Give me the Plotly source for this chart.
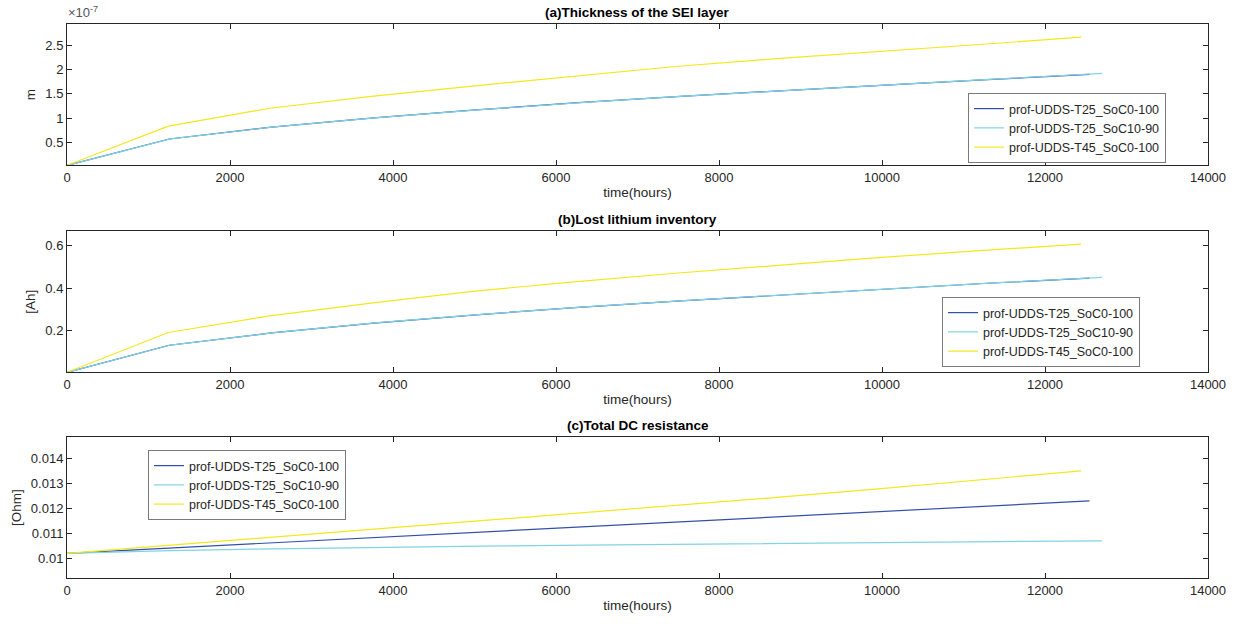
import plotly.graph_objects as go

# ---------------- data ----------------
names = ["prof-UDDS-T25_SoC0-100", "prof-UDDS-T25_SoC10-90", "prof-UDDS-T45_SoC0-100"]
colors = ["#3350a8", "#80d4e4", "#f3e81c"]

t_T25_full = [0, 1255, 2510, 3765, 5020, 6275, 7530, 8785, 10040, 11295, 12546]
t_T25_part = [0, 1270, 2540, 3810, 5080, 6350, 7620, 8890, 10160, 11430, 12700]
t_T45_full = [0, 1244, 2488, 3732, 4976, 6220, 7464, 8708, 9952, 11196, 12443]
times = [t_T25_full, t_T25_part, t_T45_full]

# (a) SEI thickness, units of 1e-7 m
sei_T25_full = [0.037, 0.575, 0.82, 1.01, 1.17, 1.32, 1.45, 1.57, 1.68, 1.79, 1.90]
sei_T25_part = [0.037, 0.577, 0.823, 1.015, 1.177, 1.325, 1.457, 1.578, 1.692, 1.805, 1.92]
sei_T45_full = [0.037, 0.84, 1.205, 1.45, 1.66, 1.86, 2.06, 2.22, 2.36, 2.51, 2.66]

# (b) lost lithium inventory [Ah]
lli_T25_full = [0.005, 0.132, 0.19, 0.236, 0.275, 0.31, 0.34, 0.368, 0.397, 0.423, 0.447]
lli_T25_part = [0.005, 0.133, 0.191, 0.238, 0.277, 0.312, 0.343, 0.371, 0.399, 0.426, 0.451]
lli_T45_full = [0.005, 0.192, 0.27, 0.33, 0.385, 0.43, 0.47, 0.508, 0.543, 0.576, 0.607]

# (c) total DC resistance [Ohm]
res_T25_full = [0.0102, 0.01041, 0.01062, 0.01083, 0.01104, 0.01125, 0.01146, 0.01167, 0.01188, 0.01209, 0.0123]
res_T25_part = [0.0102, 0.01031, 0.01038, 0.01044, 0.01049, 0.01053, 0.01057, 0.0106, 0.01064, 0.01067, 0.0107]
res_T45_full = [0.0102, 0.01052, 0.01083, 0.01115, 0.01147, 0.01178, 0.0121, 0.01244, 0.01278, 0.01314, 0.0135]

panels = [
    ("(a)Thickness of the SEI layer", "m", [sei_T25_full, sei_T25_part, sei_T45_full]),
    ("(b)Lost lithium inventory", "[Ah]", [lli_T25_full, lli_T25_part, lli_T45_full]),
    ("(c)Total DC resistance", "[Ohm]", [res_T25_full, res_T25_part, res_T45_full]),
]
x_ticks = [0, 2000, 4000, 6000, 8000, 10000, 12000, 14000]
x_ticklabels = ["0", "2000", "4000", "6000", "8000", "10000", "12000", "14000"]
y_ticks = [[0.5, 1, 1.5, 2, 2.5], [0.2, 0.4, 0.6], [0.01, 0.011, 0.012, 0.013, 0.014]]
y_ticklabels = [["0.5", "1", "1.5", "2", "2.5"], ["0.2", "0.4", "0.6"],
                ["0.01", "0.011", "0.012", "0.013", "0.014"]]
y_ranges = [[0.037, 2.93], [0.005, 0.667], [0.0092, 0.01487]]

# ---------------- layout geometry ----------------
W, H = 1237, 624
x_dom = [67 / W, 1208 / W]
y_px = [(24, 165.3), (231.3, 372.3), (436.7, 578.3)]
legend_center = [(968, 128), (942, 332), (148, 485)]

FONT = "Liberation Sans, Arial, Helvetica, sans-serif"
AXC = "#262626"

fig = go.Figure()
layout = dict(
    width=W, height=H, margin=dict(l=0, r=0, t=0, b=0),
    paper_bgcolor="white", plot_bgcolor="white",
    font=dict(family=FONT, size=12, color=AXC),
    showlegend=True, annotations=[],
)

for i, (title, ylab, series) in enumerate(panels):
    k = "" if i == 0 else str(i + 1)
    leg = "legend" if i == 0 else f"legend{i + 1}"
    for j in range(3):
        fig.add_trace(go.Scatter(
            x=times[j], y=series[j], mode="lines", name=names[j],
            line=dict(color=colors[j], width=1.2),
            xaxis="x" + k, yaxis="y" + k, legend=leg, hoverinfo="skip",
        ))
    top, bot = y_px[i]
    dom = [(H - bot) / H, (H - top) / H]
    layout["xaxis" + k] = dict(
        domain=x_dom, anchor="y" + k, range=[0, 14000], tickvals=x_ticks,
        ticktext=x_ticklabels, automargin=False,
        ticks="inside", ticklen=5, tickcolor=AXC, showline=True, linecolor=AXC,
        linewidth=1, mirror="ticks", showgrid=False, zeroline=False,
        tickfont=dict(size=13, color=AXC),
        title=dict(text="time(hours)", font=dict(size=13.5, color=AXC), standoff=3),
    )
    layout["yaxis" + k] = dict(
        domain=dom, anchor="x" + k, range=y_ranges[i], tickvals=y_ticks[i],
        ticktext=y_ticklabels[i], automargin=False,
        ticks="inside", ticklen=5, tickcolor=AXC,
        showline=True, linecolor=AXC, linewidth=1, mirror="ticks",
        showgrid=False, zeroline=False, tickfont=dict(size=13, color=AXC),
        title=dict(text=ylab, font=dict(size=13.5, color=AXC), standoff=6),
    )
    layout["annotations"].append(dict(
        text="<b>" + title + "</b>", xref="paper", yref="paper",
        x=(x_dom[0] + x_dom[1]) / 2, y=(H - top + 2) / H, xanchor="center",
        yanchor="bottom", showarrow=False, font=dict(size=13.5, color="black"),
    ))
    lx, ly = legend_center[i]
    layout[leg] = dict(
        x=lx / W, y=(H - ly) / H, xanchor="left", yanchor="middle",
        xref="paper", yref="paper", bgcolor="white", bordercolor="#7a7a7a",
        borderwidth=1, font=dict(size=12.5, color=AXC), tracegroupgap=0,
        itemwidth=30,
    )

layout["annotations"].append(dict(
    text="×10<sup>-7</sup>", xref="paper", yref="paper", x=66 / W, y=(H - 22) / H,
    xanchor="left", yanchor="bottom", showarrow=False,
    font=dict(size=13, color="#555555"),
))

fig.update_layout(**layout)
fig.write_html("out.html", config={"displayModeBar": False},
               post_script="document.body.style.margin='0';")
